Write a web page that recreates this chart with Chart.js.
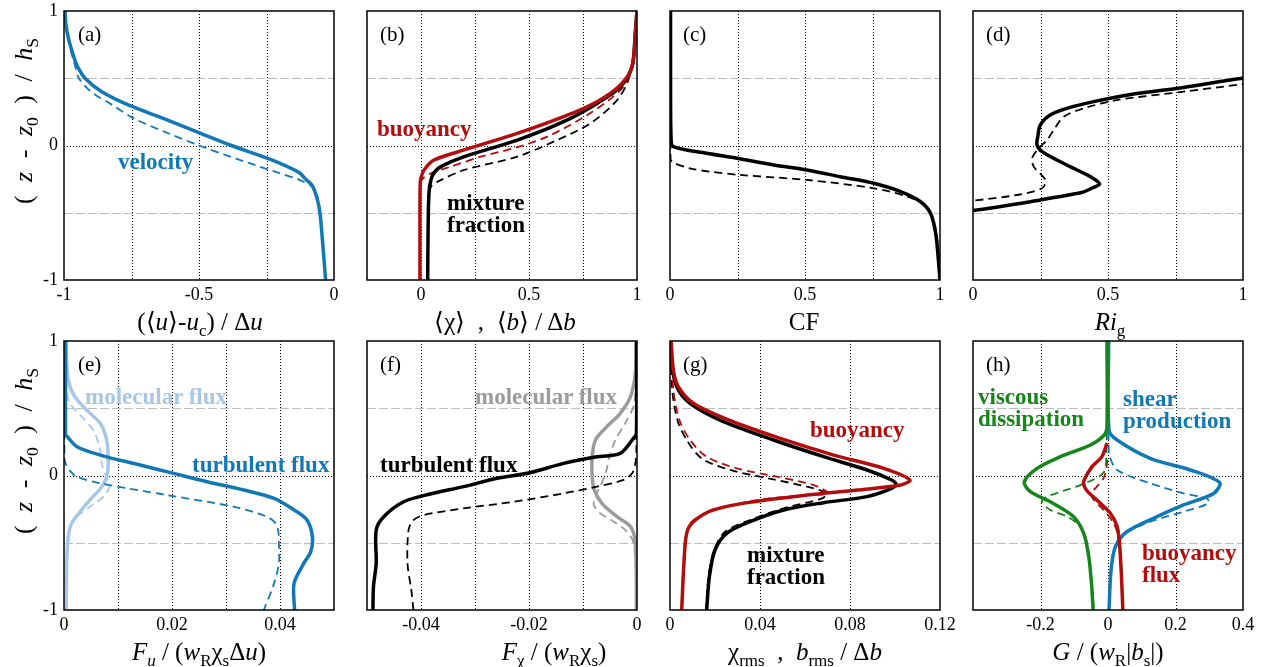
<!DOCTYPE html>
<html>
<head>
<meta charset="utf-8">
<script src="https://cdn.jsdelivr.net/npm/chart.js@4.4.1/dist/chart.umd.min.js"></script>
<style>
  body { margin: 0; background: #fff; }
  #fig { position: relative; width: 1269px; height: 667px; overflow: hidden;
         font-family: "Liberation Serif", "Times New Roman", serif; color: #000; }
  #fig canvas { position: absolute; }
  .t { position: absolute; white-space: nowrap; line-height: 22px; }
  .ann { font-weight: bold; font-size: 23px; }
  .pl { font-size: 21px; line-height: 21px; }
  .ax { font-size: 25px; line-height: 25px; transform: translate(-50%, -50%); }
  .yt { font-size: 26px; line-height: 26px; word-spacing: 7px; transform: translate(-50%, -50%) rotate(-90deg); }
  sub { font-size: 68%; vertical-align: sub; line-height: 0; }
</style>
</head>
<body>
<div id="fig">
  <canvas id="pa" width="364" height="349"></canvas>
  <canvas id="pb" width="364" height="349"></canvas>
  <canvas id="pc" width="364" height="349"></canvas>
  <canvas id="pd" width="364" height="349"></canvas>
  <canvas id="pe" width="364" height="349"></canvas>
  <canvas id="pf" width="364" height="349"></canvas>
  <canvas id="pg" width="364" height="349"></canvas>
  <canvas id="ph" width="364" height="349"></canvas>

  <div class="t yt" style="left:24px;top:121px">( <i>z</i> - <i>z</i><sub>0</sub> ) / <i>h</i><sub>S</sub></div>
  <div class="t yt" style="left:24px;top:451px">( <i>z</i> - <i>z</i><sub>0</sub> ) / <i>h</i><sub>S</sub></div>

  <div class="t ax" style="left:200px;top:321px">(&#10216;<i>u</i>&#10217;-<i>u</i><sub>c</sub>) / &Delta;<i>u</i></div>
  <div class="t ax" style="left:505px;top:321px">&#10216;&chi;&#10217; &nbsp;, &nbsp;&#10216;<i>b</i>&#10217; / &Delta;<i>b</i></div>
  <div class="t ax" style="left:804px;top:321px">CF</div>
  <div class="t ax" style="left:1110px;top:321px"><i>Ri</i><sub>g</sub></div>
  <div class="t ax" style="left:199px;top:651px"><i>F<sub>u</sub></i> / (<i>w</i><sub>R</sub>&chi;<sub>s</sub>&Delta;<i>u</i>)</div>
  <div class="t ax" style="left:554px;top:651px"><i>F</i><sub>&chi;</sub> / (<i>w</i><sub>R</sub>&chi;<sub>s</sub>)</div>
  <div class="t ax" style="left:805px;top:651px">&chi;<sub>rms</sub> &nbsp;, &nbsp;<i>b</i><sub>rms</sub> / &Delta;<i>b</i></div>
  <div class="t ax" style="left:1108px;top:651px"><i>G</i> / (<i>w</i><sub>R</sub>|<i>b</i><sub>s</sub>|)</div>

  <div class="t pl" style="left:78px;top:24px">(a)</div>
  <div class="t pl" style="left:380px;top:24px">(b)</div>
  <div class="t pl" style="left:683px;top:24px">(c)</div>
  <div class="t pl" style="left:986px;top:24px">(d)</div>
  <div class="t pl" style="left:78px;top:354px">(e)</div>
  <div class="t pl" style="left:380px;top:354px">(f)</div>
  <div class="t pl" style="left:683px;top:354px">(g)</div>
  <div class="t pl" style="left:986px;top:354px">(h)</div>

  <div class="t ann" style="left:118px;top:151px;color:#1079b5">velocity</div>
  <div class="t ann" style="left:377px;top:118px;color:#b20d0d">buoyancy</div>
  <div class="t ann" style="left:447px;top:192px;color:#000">mixture<br>fraction</div>
  <div class="t ann" style="left:85px;top:386px;color:#a7c7e7">molecular flux</div>
  <div class="t ann" style="left:192px;top:454px;color:#1079b5">turbulent flux</div>
  <div class="t ann" style="left:475px;top:386px;color:#9b9b9b">molecular flux</div>
  <div class="t ann" style="left:380px;top:454px;color:#000">turbulent flux</div>
  <div class="t ann" style="left:810px;top:419px;color:#b20d0d">buoyancy</div>
  <div class="t ann" style="left:747px;top:544px;color:#000">mixture<br>fraction</div>
  <div class="t ann" style="left:978px;top:386px;color:#16861a">viscous<br>dissipation</div>
  <div class="t ann" style="left:1123px;top:388px;color:#1079b5">shear<br>production</div>
  <div class="t ann" style="left:1142px;top:542px;color:#b20d0d">buoyancy<br>flux</div>
</div>

<script>
// ---- colours
const BLUE = '#1079b5', LIGHTBLUE = '#a7c7e7', RED = '#b20d0d', GREEN = '#16861a', GRAY = '#9b9b9b', BLACK = '#000';

// ---- grid / tick values
const zTicks = [-1, 0, 1];
const zGridDotted = [0];
const zGridDashed = [-0.5, 0.5];

// (a) mean velocity
const aSolidZ = [1, 0.9, 0.8, 0.7, 0.6, 0.5, 0.4, 0.3, 0.2, 0.1, 0, -0.1, -0.2, -0.25, -0.3, -0.4, -0.5, -0.7, -1];
const aSolidX = [-0.996, -0.993, -0.984, -0.97, -0.953, -0.922, -0.86, -0.76, -0.63, -0.505, -0.38, -0.24, -0.13, -0.105, -0.08, -0.062, -0.052, -0.043, -0.031];
const aDashZ = [1, 0.8, 0.6, 0.5, 0.4, 0.3, 0.2, 0.1, 0, -0.1, -0.2, -0.25, -0.3, -0.35, -0.45];
const aDashX = [-0.996, -0.986, -0.96, -0.945, -0.9, -0.82, -0.74, -0.625, -0.5, -0.36, -0.21, -0.135, -0.085, -0.065, -0.056];

// (b) mean mixture fraction (black) and buoyancy (red)
const bMixZ = [1, 0.834, 0.586, 0.437, 0.313, 0.177, 0.04, -0.083, -0.157, -0.2, -0.256, -0.35, -0.6, -1];
const bMixX = [1.0, 0.992, 0.977, 0.923, 0.815, 0.66, 0.446, 0.2, 0.092, 0.062, 0.046, 0.037, 0.033, 0.031];
const bMixDZ = [1, 0.71, 0.487, 0.338, 0.165, 0.04, -0.083, -0.182, -0.269, -0.306, -0.4, -1];
const bMixDX = [1, 0.988, 0.96, 0.908, 0.785, 0.63, 0.446, 0.2, 0.077, 0.046, 0.036, 0.031];
const bBuoZ = [1, 0.834, 0.586, 0.45, 0.326, 0.214, 0.09, -0.033, -0.108, -0.18, -0.24, -0.3, -0.6, -1];
const bBuoX = [1.0, 0.992, 0.977, 0.923, 0.815, 0.66, 0.446, 0.2, 0.06, 0.015, 0.0, -0.004, -0.005, -0.005];
const bBuoDZ = [1, 0.636, 0.475, 0.363, 0.227, 0.066, -0.02, -0.083, -0.157, -0.207, -0.26, -0.35, -1];
const bBuoDX = [1, 0.985, 0.954, 0.89, 0.77, 0.585, 0.43, 0.277, 0.138, 0.046, 0.0, -0.004, -0.005];

// (c) CF
const cSolidZ = [1, 0.5, 0.05, -0.009, -0.058, -0.095, -0.145, -0.182, -0.232, -0.281, -0.343, -0.418, -0.504, -0.653, -0.851, -1];
const cSolidX = [0.002, 0.002, 0.004, 0.012, 0.136, 0.248, 0.384, 0.507, 0.631, 0.755, 0.854, 0.928, 0.965, 0.984, 0.994, 1.0];
const cDashZ = [1, -0.1, -0.125, -0.17, -0.195, -0.219, -0.256, -0.318, -0.38, -0.442, -0.554, -0.703, -1];
const cDashX = [0.001, 0.002, 0.01, 0.074, 0.15, 0.26, 0.507, 0.755, 0.879, 0.94, 0.975, 0.99, 1.0];

// (d) gradient Richardson number
const dSolidZ = [0.53, 0.5, 0.432, 0.383, 0.326, 0.276, 0.227, 0.152, 0.066, 0.004, -0.046, -0.108, -0.182, -0.232, -0.286, -0.311, -0.345, -0.356, -0.418, -0.484, -0.49];
const dSolidX = [1.2, 1.0, 0.78, 0.595, 0.447, 0.348, 0.286, 0.249, 0.24, 0.237, 0.256, 0.311, 0.385, 0.435, 0.469, 0.447, 0.41, 0.385, 0.212, 0.0, -0.05];
const dDashZ = [0.49, 0.457, 0.4, 0.338, 0.276, 0.214, 0.115, 0.04, -0.021, -0.095, -0.157, -0.256, -0.318, -0.368, -0.41, -0.415];
const dDashX = [1.12, 1.0, 0.78, 0.533, 0.41, 0.336, 0.299, 0.274, 0.243, 0.219, 0.225, 0.268, 0.256, 0.163, 0.0, -0.05];

// (e) momentum fluxes
const eTurbZ = [1, 0.3, 0.293, 0.214, 0.152, 0.078, 0.016, -0.046, -0.108, -0.17, -0.256, -0.331, -0.455, -0.566, -0.653, -0.802, -1];
const eTurbX = [0.0003, 0.0003, 0.0005, 0.0024, 0.0067, 0.0141, 0.0203, 0.0265, 0.0333, 0.0389, 0.0426, 0.045, 0.046, 0.0457, 0.0444, 0.0426, 0.0427];
const eTurbDZ = [1, 0.12, 0.08, 0.03, -0.01, -0.058, -0.145, -0.232, -0.306, -0.356, -0.42, -0.504, -0.653, -0.802, -1];
const eTurbDX = [0.0001, 0.0001, 0.0004, 0.0012, 0.0024, 0.0067, 0.019, 0.0314, 0.0376, 0.0392, 0.0397, 0.0398, 0.0398, 0.0389, 0.037];
const eMolZ = [1, 0.71, 0.586, 0.487, 0.388, 0.264, 0.09, -0.009, -0.083, -0.182, -0.269, -0.356, -0.455, -0.653, -1];
const eMolX = [0.0003, 0.0008, 0.002, 0.0042, 0.0067, 0.0079, 0.0082, 0.0079, 0.007, 0.0048, 0.003, 0.0014, 0.0008, 0.0005, 0.0004];
const eMolDZ = [1, 0.65, 0.537, 0.437, 0.338, 0.214, 0.09, -0.009, -0.083, -0.157, -0.232, -0.306, -0.38, -0.53, -1];
const eMolDX = [0.0002, 0.0004, 0.0011, 0.0033, 0.0054, 0.0066, 0.007, 0.0078, 0.0084, 0.0073, 0.0048, 0.0024, 0.0011, 0.0005, 0.0004];

// (f) scalar fluxes
const fTurbZ = [1, 0.314, 0.264, 0.165, 0.135, 0.09, 0.021, -0.021, -0.083, -0.138, -0.195, -0.306, -0.405, -0.653, -0.826, -1];
const fTurbX = [-0.0001, -0.0001, -0.0009, -0.0031, -0.008, -0.0136, -0.0198, -0.0259, -0.0321, -0.0383, -0.0432, -0.0469, -0.0483, -0.0483, -0.0488, -0.0489];
const fTurbDZ = [1, 0.214, 0.09, 0.016, -0.033, -0.083, -0.133, -0.195, -0.244, -0.294, -0.331, -0.405, -0.653, -0.851, -1];
const fTurbDX = [0, -0.0001, -0.0003, -0.0009, -0.0025, -0.0074, -0.0136, -0.0228, -0.0321, -0.0395, -0.0414, -0.0423, -0.0425, -0.0418, -0.0414];
const fMolZ = [1, 0.76, 0.586, 0.462, 0.363, 0.264, 0.14, -0.009, -0.108, -0.207, -0.306, -0.38, -0.504, -1];
const fMolX = [-0.0001, -0.0003, -0.0012, -0.0031, -0.0056, -0.0077, -0.0083, -0.0083, -0.0079, -0.0065, -0.0037, -0.0012, -0.0003, -0.0001];
const fMolDZ = [1, 0.537, 0.388, 0.264, 0.14, 0.016, -0.071, -0.157, -0.219, -0.281, -0.343, -0.405, -0.504, -1];
const fMolDX = [-0.0001, -0.0005, -0.0022, -0.004, -0.0051, -0.0058, -0.0067, -0.0077, -0.008, -0.0068, -0.0043, -0.0022, -0.0006, -0.0001];

// (g) rms fluctuations
const gMixZ = [1, 0.834, 0.66, 0.537, 0.4, 0.264, 0.14, 0.041, -0.03, -0.065, -0.1, -0.157, -0.202, -0.256, -0.343, -0.43, -0.554, -0.752, -1];
const gMixX = [0.0003, 0.0007, 0.003, 0.0089, 0.0238, 0.046, 0.0683, 0.0876, 0.098, 0.1005, 0.098, 0.0876, 0.0683, 0.0505, 0.0356, 0.0252, 0.02, 0.0175, 0.0163];
const gMixDZ = [1, 0.636, 0.413, 0.264, 0.127, 0.041, -0.029, -0.083, -0.133, -0.17, -0.244, -0.331, -0.418, -0.554, -0.752, -1];
const gMixDX = [0.0003, 0.001, 0.0033, 0.0074, 0.0141, 0.0267, 0.046, 0.0609, 0.0698, 0.0676, 0.0505, 0.0356, 0.0245, 0.0196, 0.0171, 0.016];
const gBuoZ = [1, 0.784, 0.66, 0.537, 0.413, 0.276, 0.152, 0.053, -0.033, -0.071, -0.108, -0.145, -0.195, -0.256, -0.343, -0.43, -0.653, -1];
const gBuoX = [0.0005, 0.0015, 0.0037, 0.0104, 0.026, 0.049, 0.0728, 0.095, 0.1066, 0.1025, 0.0832, 0.0609, 0.0371, 0.0193, 0.0104, 0.0074, 0.0062, 0.0052];
const gBuoDZ = [1, 0.636, 0.413, 0.264, 0.14, 0.053, -0.014, -0.071, -0.133, -0.145, -0.187, -0.269, -0.343, -0.442, -0.653, -1];
const gBuoDX = [0.0004, 0.0015, 0.0042, 0.0089, 0.0163, 0.0297, 0.049, 0.0639, 0.0705, 0.0609, 0.0371, 0.0178, 0.0097, 0.0071, 0.006, 0.0052];

// (h) TKE budget terms
const hViscZ = [1, 0.363, 0.301, 0.227, 0.14, 0.053, -0.046, -0.12, -0.195, -0.306, -0.43, -0.604, -0.802, -1];
const hViscX = [-0.003, -0.003, -0.011, -0.052, -0.141, -0.21, -0.248, -0.23, -0.171, -0.102, -0.072, -0.057, -0.049, -0.044];
const hViscDZ = [1, 0.14, 0.016, -0.071, -0.157, -0.195, -0.256, -0.306, -0.38, -0.504, -0.703, -1];
const hViscDX = [-0.002, -0.005, -0.015, -0.082, -0.181, -0.196, -0.171, -0.121, -0.082, -0.062, -0.052, -0.042];
const hShearZ = [1, 0.338, 0.264, 0.128, 0.041, -0.053, -0.133, -0.219, -0.306, -0.418, -0.529, -0.703, -1];
const hShearX = [0.002, 0.003, 0.027, 0.125, 0.244, 0.331, 0.313, 0.224, 0.145, 0.056, 0.022, 0.009, 0.003];
const hShearDZ = [1, 0.2, 0.14, 0.041, -0.058, -0.133, -0.17, -0.207, -0.269, -0.343, -0.43, -0.529, -0.653, -1];
const hShearDX = [0.002, 0.002, 0.005, 0.027, 0.125, 0.224, 0.293, 0.298, 0.224, 0.125, 0.051, 0.022, 0.012, 0.003];
const hBuoZ = [0.24, 0.14, 0.066, -0.046, -0.108, -0.182, -0.281, -0.38, -0.504, -0.703, -1];
const hBuoX = [-0.003, -0.018, -0.047, -0.072, -0.064, -0.033, 0.007, 0.027, 0.034, 0.039, 0.044];
const hBuoDZ = [0.115, -0.009, -0.083, -0.133, -0.182, -0.256, -0.356, -0.45, -0.6, -1];
const hBuoDX = [-0.001, -0.011, -0.033, -0.05, -0.042, -0.013, 0.017, 0.03, 0.036, 0.044];

// ---- box and grid lines drawn from the chart's own scales
const frame = {
    id: 'frame',
    beforeDatasetsDraw(chart, args, opts) {
        const { ctx, chartArea: a } = chart;
        const x = chart.scales.x, y = chart.scales.y;
        const hline = v => {
            const p = Math.round(y.getPixelForValue(v)) + 0.5;
            ctx.beginPath(); ctx.moveTo(a.left, p); ctx.lineTo(a.right, p); ctx.stroke();
        };
        ctx.save();
        ctx.lineWidth = 1;
        ctx.strokeStyle = '#bdbdbd';
        ctx.setLineDash([9, 3]);
        zGridDashed.forEach(hline);
        ctx.strokeStyle = '#000';
        ctx.setLineDash([1, 2]);
        zGridDotted.forEach(hline);
        opts.xGrid.forEach(v => {
            const p = Math.round(x.getPixelForValue(v)) + 0.5;
            ctx.beginPath(); ctx.moveTo(p, a.top); ctx.lineTo(p, a.bottom); ctx.stroke();
        });
        ctx.restore();
    },
    afterDatasetsDraw(chart) {
        const { ctx, chartArea: a } = chart;
        ctx.save();
        ctx.lineWidth = 1.5;
        ctx.strokeStyle = '#000';
        ctx.strokeRect(a.left, a.top, a.right - a.left, a.bottom - a.top);
        ctx.restore();
    }
};
Chart.register(frame);

function curve(xs, zs, color, dashed) {
    return {
        data: xs.map((v, i) => ({ x: v, y: zs[i] })),
        showLine: true,
        borderColor: color,
        borderWidth: dashed ? 1.8 : 3.5,
        borderDash: dashed ? [8, 5] : [],
        pointRadius: 0,
        tension: 0.3,
        fill: false
    };
}

const tickFont = { family: 'Liberation Serif', size: 18 };
const noGrid = { display: false, drawTicks: false, tickLength: 0 };

function panel(id, left, top, xMin, xMax, xTicks, xGrid, showZ, datasets) {
    const el = document.getElementById(id);
    el.style.left = (left - 70) + 'px';
    el.style.top = (top - 20) + 'px';
    return new Chart(el, {
        type: 'scatter',
        data: { datasets },
        options: {
            responsive: false,
            animation: false,
            events: [],
            layout: { padding: { left: 0, right: 24, top: 20, bottom: 0 } },
            plugins: { legend: { display: false }, tooltip: { enabled: false }, frame: { xGrid } },
            scales: {
                x: {
                    type: 'linear', min: xMin, max: xMax,
                    afterBuildTicks: s => { s.ticks = xTicks.map(v => ({ value: v })); },
                    afterFit: s => { s.height = 60; },
                    grid: noGrid,
                    border: { display: false },
                    ticks: { font: tickFont, color: '#000', padding: 4, maxRotation: 0, callback: v => String(v) }
                },
                y: {
                    type: 'linear', min: -1, max: 1,
                    afterBuildTicks: s => { s.ticks = zTicks.map(v => ({ value: v })); },
                    afterFit: s => { s.width = 70; },
                    grid: noGrid,
                    border: { display: false },
                    ticks: { display: showZ, font: tickFont, color: '#000', padding: 6, callback: v => String(v) }
                }
            }
        }
    });
}

const L = [64, 367, 670, 973], T = [11, 341];

panel('pa', L[0], T[0], -1, 0, [-1, -0.5, 0], [-0.75, -0.5, -0.25], true, [
    curve(aSolidX, aSolidZ, BLUE, false),
    curve(aDashX, aDashZ, BLUE, true)
]);
panel('pb', L[1], T[0], -0.25, 1, [0, 0.5, 1], [0, 0.25, 0.5, 0.75], false, [
    curve(bBuoX, bBuoZ, RED, false),
    curve(bMixX, bMixZ, BLACK, false),
    curve(bBuoDX, bBuoDZ, RED, true),
    curve(bMixDX, bMixDZ, BLACK, true)
]);
panel('pc', L[2], T[0], 0, 1, [0, 0.5, 1], [0.25, 0.5, 0.75], false, [
    curve(cSolidX, cSolidZ, BLACK, false),
    curve(cDashX, cDashZ, BLACK, true)
]);
panel('pd', L[3], T[0], 0, 1, [0, 0.5, 1], [0.25, 0.5, 0.75], false, [
    curve(dSolidX, dSolidZ, BLACK, false),
    curve(dDashX, dDashZ, BLACK, true)
]);
panel('pe', L[0], T[1], 0, 0.05, [0, 0.02, 0.04], [0.01, 0.02, 0.03, 0.04], true, [
    curve(eTurbX, eTurbZ, BLUE, false),
    curve(eTurbDX, eTurbDZ, BLUE, true),
    curve(eMolX, eMolZ, LIGHTBLUE, false),
    curve(eMolDX, eMolDZ, LIGHTBLUE, true)
]);
panel('pf', L[1], T[1], -0.05, 0, [-0.04, -0.02, 0], [-0.04, -0.03, -0.02, -0.01], false, [
    curve(fTurbX, fTurbZ, BLACK, false),
    curve(fTurbDX, fTurbDZ, BLACK, true),
    curve(fMolX, fMolZ, GRAY, false),
    curve(fMolDX, fMolDZ, GRAY, true)
]);
panel('pg', L[2], T[1], 0, 0.12, [0, 0.04, 0.08, 0.12], [0.04, 0.08], false, [
    curve(gBuoX, gBuoZ, RED, false),
    curve(gMixX, gMixZ, BLACK, false),
    curve(gBuoDX, gBuoDZ, RED, true),
    curve(gMixDX, gMixDZ, BLACK, true)
]);
panel('ph', L[3], T[1], -0.4, 0.4, [-0.2, 0, 0.2, 0.4], [-0.2, 0, 0.2], false, [
    curve(hViscX, hViscZ, GREEN, false),
    curve(hBuoX, hBuoZ, RED, false),
    curve(hShearX, hShearZ, BLUE, false),
    curve(hViscDX, hViscDZ, GREEN, true),
    curve(hBuoDX, hBuoDZ, RED, true),
    curve(hShearDX, hShearDZ, BLUE, true)
]);
</script>
</body>
</html>
